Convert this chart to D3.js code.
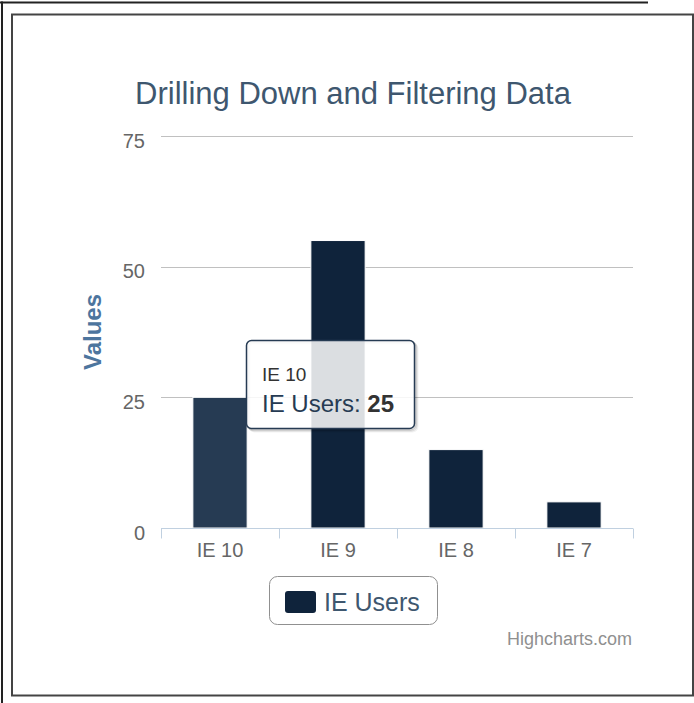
<!DOCTYPE html>
<html>
<head>
<meta charset="utf-8">
<script src="https://cdn.jsdelivr.net/npm/d3@7"></script>
<style>
  html, body { margin: 0; padding: 0; background: #fff; }
  svg { display: block; font-family: "Liberation Sans", Arial, sans-serif; }
</style>
</head>
<body>
<svg id="chart" width="694" height="703"></svg>
<script>
// ---- data ----
const chartTitle = "Drilling Down and Filtering Data";
const yAxisTitle = "Values";
const seriesName = "IE Users";
const categories = ["IE 10", "IE 9", "IE 8", "IE 7"];
const ieUsers = [25, 55, 15, 5];
const yTicks = [0, 25, 50, 75];
const hoveredIndex = 0;

// ---- layout ----
const W = 694, H = 703;
const plot = { left: 161, right: 633, top: 136, bottom: 528 };
const barColor = "#0f233b";
const barHover = "#263b53";

const svg = d3.select("#chart");

// frames
svg.append("line").attr("x1", 0).attr("x2", 648).attr("y1", 2.5).attr("y2", 2.5)
  .attr("stroke", "#222").attr("stroke-width", 2);
svg.append("line").attr("x1", 2).attr("x2", 2).attr("y1", 1.5).attr("y2", H)
  .attr("stroke", "#222").attr("stroke-width", 2);
svg.append("rect").attr("x", 12).attr("y", 14.5).attr("width", 681).attr("height", 681)
  .attr("fill", "#fff").attr("stroke", "#444").attr("stroke-width", 2);

// scales
const x = d3.scaleBand().domain(categories).range([plot.left, plot.right]).padding(0);
const y = d3.scaleLinear().domain([0, 75]).range([plot.bottom, plot.top]);

// title
svg.append("text").attr("x", 353).attr("y", 104).attr("text-anchor", "middle")
  .attr("font-size", 31).attr("fill", "#3e576f").text(chartTitle);

// grid lines
const grid = svg.append("g");
grid.selectAll("line").data(yTicks.filter(d => d !== 0)).join("line")
  .attr("x1", plot.left).attr("x2", plot.right)
  .attr("y1", d => Math.round(y(d)) + 0.5).attr("y2", d => Math.round(y(d)) + 0.5)
  .attr("stroke", "#c0c0c0").attr("stroke-width", 1);

// y axis labels
const yAxis = d3.axisLeft(y).tickValues(yTicks).tickSize(0).tickPadding(0);
const yg = svg.append("g").attr("transform", `translate(${plot.left - 16},0)`).call(yAxis);
yg.select(".domain").remove();
yg.selectAll("text").attr("font-size", 20).attr("fill", "#666")
  .attr("font-family", "Liberation Sans, Arial, sans-serif").attr("dy", "0.3em")
  .attr("transform", "translate(0,5)");

// y axis title
svg.append("text").attr("transform", "translate(101,332) rotate(-90)")
  .attr("text-anchor", "middle").attr("font-size", 24).attr("font-weight", "bold")
  .attr("fill", "#4d759e").text(yAxisTitle);

// bars
const barW = x.bandwidth() * 0.46;
svg.append("g").selectAll("rect").data(ieUsers).join("rect")
  .attr("x", (d, i) => x(categories[i]) + (x.bandwidth() - barW) / 2)
  .attr("y", d => y(d))
  .attr("width", barW)
  .attr("height", d => y(0) - y(d))
  .attr("fill", (d, i) => i === hoveredIndex ? barHover : barColor)
  .attr("stroke", "#fff").attr("stroke-width", 1);

// x axis
const xAxis = d3.axisBottom(x).tickSize(0).tickPadding(0);
const xg = svg.append("g").attr("transform", `translate(0,${plot.bottom + 0.5})`).call(xAxis);
xg.select(".domain").attr("stroke", "#c0d0e0").attr("d", `M${plot.left},0H${plot.right}`);
xg.selectAll("text").attr("font-size", 20).attr("fill", "#666")
  .attr("font-family", "Liberation Sans, Arial, sans-serif").attr("dy", 0).attr("y", 28);
// tick marks at category boundaries
const bounds = categories.map(c => x(c)).concat([plot.right]);
xg.selectAll("line.bound").data(bounds).join("line").attr("class", "bound")
  .attr("x1", d => Math.round(d) + 0.5).attr("x2", d => Math.round(d) + 0.5)
  .attr("y1", 0).attr("y2", 10).attr("stroke", "#c0d0e0").attr("stroke-width", 1);

// legend
const lg = svg.append("g");
lg.append("rect").attr("x", 269.5).attr("y", 576.5).attr("width", 168).attr("height", 48)
  .attr("rx", 8).attr("fill", "#fff").attr("stroke", "#909090").attr("stroke-width", 1);
lg.append("rect").attr("x", 285).attr("y", 591).attr("width", 31).attr("height", 22)
  .attr("rx", 3).attr("fill", barColor);
lg.append("text").attr("x", 324).attr("y", 611).attr("font-size", 25)
  .attr("fill", "#3e576f").text(seriesName);

// credits
svg.append("text").attr("x", 632).attr("y", 645).attr("text-anchor", "end")
  .attr("font-size", 18).attr("fill", "#909090").text("Highcharts.com");

// tooltip for hovered point
const hv = hoveredIndex;
const tg = svg.append("g");
const tx = 246.5, ty = 340.5, tw = 168, th = 88;
[3, 2, 1].forEach(o => {
  tg.append("rect").attr("x", tx + o).attr("y", ty + o).attr("width", tw).attr("height", th)
    .attr("rx", 5).attr("fill", "none").attr("stroke", "#000")
    .attr("stroke-opacity", 0.05 * (4 - o)).attr("stroke-width", 2);
});
tg.append("rect").attr("x", tx).attr("y", ty).attr("width", tw).attr("height", th)
  .attr("rx", 5).attr("fill", "rgba(255,255,255,0.85)").attr("stroke", "#263b53").attr("stroke-width", 1.5);
tg.append("text").attr("x", 262).attr("y", 381).attr("font-size", 19).attr("fill", "#333")
  .text(categories[hv]);
const body = tg.append("text").attr("x", 262).attr("y", 412).attr("font-size", 24);
body.append("tspan").attr("fill", "#263b53").text(seriesName + ": ");
body.append("tspan").attr("fill", "#333").attr("font-weight", "bold").text(ieUsers[hv]);
</script>
</body>
</html>
